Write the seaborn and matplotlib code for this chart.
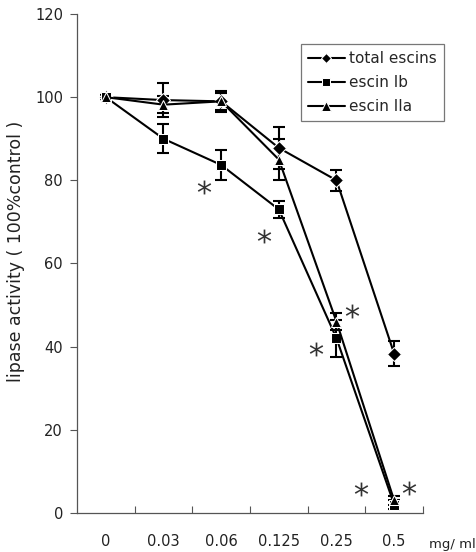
import matplotlib
matplotlib.use('Agg')
import matplotlib.pyplot as plt
import seaborn as sns
import pandas as pd
import numpy as np

# данные
doses = ['0', '0.03', '0.06', '0.125', '0.25', '0.5']
total_mean = [100, 99.3, 99.0, 87.8, 80.0, 38.3]
total_err = [0.5, 4.0, 2.0, 5.0, 2.5, 3.0]
ib_mean = [100, 90.0, 83.7, 73.0, 42.0, 2.0]
ib_err = [0.5, 3.5, 3.5, 2.0, 4.5, 1.0]
iia_mean = [100, 98.2, 99.0, 85.0, 46.0, 3.0]
iia_err = [0.5, 2.0, 2.5, 5.0, 2.0, 1.0]
series_names = ['total escins', 'escin Ib', 'escin IIa']
# звёздочки: (позиция по категории, значение)
star_x = [1.7, 2.75, 3.65, 4.27, 4.43, 5.25]
star_y = [78.5, 66.5, 39.5, 48.5, 5.8, 6.0]

sns.set_theme(style='white')
plt.rcParams['font.family'] = ['DejaVu Sans']

df = pd.DataFrame({
    'pos': list(range(len(doses))) * 3,
    'value': total_mean + ib_mean + iia_mean,
    'err': total_err + ib_err + iia_err,
    'series': np.repeat(series_names, len(doses)),
})

fig = plt.figure(figsize=(4.77, 5.52), dpi=100)
ax = fig.add_axes([0.1614, 0.0707, 0.7254, 0.9039])

markers = {'total escins': 'D', 'escin Ib': 's', 'escin IIa': '^'}
sizes = {'total escins': 6, 'escin Ib': 7, 'escin IIa': 8}
for name in series_names:
    sub = df[df['series'] == name]
    ax.errorbar(sub['pos'], sub['value'], yerr=sub['err'], fmt='none',
                ecolor='black', elinewidth=1.5, capsize=4, capthick=1.5, zorder=2)
sns.lineplot(data=df, x='pos', y='value', hue='series', style='series',
             markers=markers, dashes=False, palette=['black'] * 3,
             linewidth=1.5, markersize=7, ax=ax, zorder=3)

for line, name in zip(ax.get_lines()[-3:], series_names):
    line.set_markersize(sizes[name])

ax.scatter(star_x, star_y, marker='$*$', s=100, color='#333333', linewidths=0, zorder=4)

ax.set_xlim(-0.5, 5.5)
ax.set_ylim(0, 120)
ax.set_yticks(range(0, 121, 20))
ax.set_xticks(range(len(doses)))
ax.set_xticklabels(doses)
ax.set_xticks(np.arange(0.5, 5.6, 1), minor=True)
ax.tick_params(axis='x', which='major', length=0, pad=15, labelsize=10.5, labelcolor='#222222')
ax.tick_params(axis='x', which='minor', direction='in', length=5, width=0.8, color='#555555', bottom=True)
ax.tick_params(axis='y', which='major', direction='out', length=5, width=0.8, color='#555555',
               left=True, labelsize=10.5, labelcolor='#222222', pad=5)
for side in ['top', 'right']:
    ax.spines[side].set_visible(False)
for side in ['left', 'bottom']:
    ax.spines[side].set_color('#555555')
    ax.spines[side].set_linewidth(0.9)

ax.set_xlabel('')
ax.set_ylabel('lipase activity ( 100%control )', fontsize=12.5, color='#222222')
ax.yaxis.set_label_coords(-0.15, 0.525)
fig.text(0.899, 0.008, 'mg/ ml', fontsize=9.5, color='#222222')

leg = ax.legend(title=None, loc='upper right', bbox_to_anchor=(444 / 477, 1 - 44 / 552),
                bbox_transform=fig.transFigure, fontsize=11,
                frameon=True, fancybox=False, edgecolor='#555555', handlelength=2.4,
                handletextpad=0.3, borderpad=0.45, labelspacing=0.6, borderaxespad=0)
leg.get_frame().set_linewidth(0.9)
for h, name in zip(leg.legend_handles, series_names):
    h.set_markersize(sizes[name] - 1)

fig.savefig('out.png', dpi=100)
